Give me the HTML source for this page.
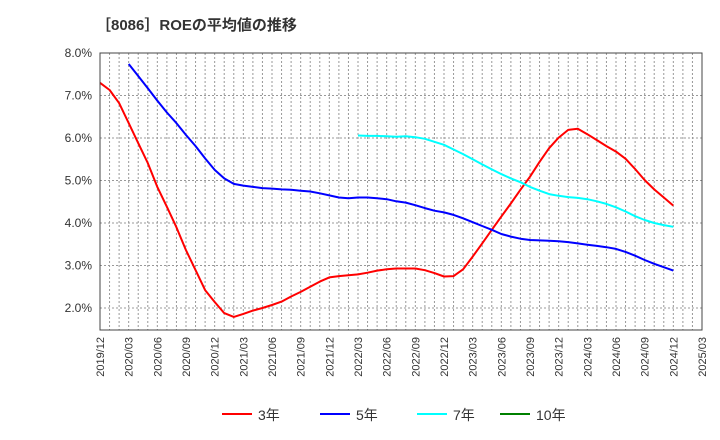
<!DOCTYPE html>
<html><head><meta charset="utf-8"><style>
body{margin:0;background:#fff;}
svg{display:block;font-family:"Liberation Sans","Noto Sans CJK JP",sans-serif;}
</style></head><body>
<svg id="chart" width="720" height="440" xmlns="http://www.w3.org/2000/svg">
<text x="96" y="30" font-size="15" font-weight="bold" fill="#333">［8086］ROEの平均値の推移</text>
<g id="grid"></g>
<g id="yaxis"></g>
<g id="xaxis"></g>
<g id="series"></g>
<rect x="100" y="53" width="602" height="277" fill="none" stroke="#444" stroke-width="1"/>
<g>
<g><line x1="222" y1="414" x2="252" y2="414" stroke="#ff0000" stroke-width="2"/><text x="258" y="420" font-size="14" fill="#333">3年</text></g>
<g><line x1="320" y1="414" x2="350" y2="414" stroke="#0000ff" stroke-width="2"/><text x="356" y="420" font-size="14" fill="#333">5年</text></g>
<g><line x1="417" y1="414" x2="447" y2="414" stroke="#00ffff" stroke-width="2"/><text x="453" y="420" font-size="14" fill="#333">7年</text></g>
<g><line x1="500" y1="414" x2="530" y2="414" stroke="#008000" stroke-width="2"/><text x="536" y="420" font-size="14" fill="#333">10年</text></g>
</g>
</svg>
<script>
const xTickLabels=["2019/12","2020/03","2020/06","2020/09","2020/12","2021/03","2021/06","2021/09","2021/12","2022/03","2022/06","2022/09","2022/12","2023/03","2023/06","2023/09","2023/12","2024/03","2024/06","2024/09","2024/12","2025/03"];
const yTicks=[2,3,4,5,6,7,8];
const roe3=[7.30,7.13,6.82,6.35,5.88,5.41,4.85,4.38,3.9,3.36,2.89,2.42,2.14,1.88,1.79,1.86,1.94,2.0,2.07,2.15,2.27,2.38,2.5,2.62,2.72,2.75,2.77,2.79,2.83,2.88,2.91,2.93,2.93,2.93,2.89,2.82,2.74,2.75,2.91,3.21,3.52,3.84,4.15,4.46,4.78,5.09,5.44,5.76,6.01,6.19,6.22,6.09,5.95,5.81,5.68,5.51,5.27,5.01,4.79,4.6,4.41];
const roe5=[null,null,null,7.74,7.46,7.17,6.88,6.6,6.35,6.07,5.81,5.52,5.25,5.05,4.92,4.88,4.85,4.82,4.81,4.79,4.78,4.76,4.74,4.7,4.65,4.6,4.58,4.6,4.6,4.58,4.56,4.51,4.48,4.42,4.35,4.29,4.25,4.19,4.11,4.02,3.93,3.84,3.74,3.68,3.63,3.6,3.59,3.58,3.57,3.55,3.52,3.49,3.46,3.43,3.39,3.32,3.23,3.13,3.04,2.96,2.88];
const roe7=[null,null,null,null,null,null,null,null,null,null,null,null,null,null,null,null,null,null,null,null,null,null,null,null,null,null,null,6.06,6.05,6.05,6.04,6.03,6.04,6.02,5.98,5.91,5.84,5.73,5.62,5.5,5.38,5.26,5.15,5.05,4.96,4.85,4.76,4.68,4.64,4.61,4.59,4.56,4.51,4.45,4.37,4.27,4.16,4.07,4.0,3.95,3.91];
const roe10=[];
const NS="http://www.w3.org/2000/svg";
const X0=100,X1=702,Y0=53,Y1=330,nMonths=63;
const xs=m=>X0+(X1-X0)*m/nMonths;
const ys=v=>Y0+(8-v)*42.5;
function mk(t,a,p){const e=document.createElementNS(NS,t);for(const k in a)e.setAttribute(k,a[k]);p.appendChild(e);return e;}
const grid=document.getElementById('grid');
for(let m=1;m<nMonths;m++){
 const l=mk('line',{x1:xs(m),x2:xs(m),y1:Y0,y2:Y1,stroke:'#999','stroke-dasharray':'2,2','stroke-width':1},grid);
 
 
}
const ya=document.getElementById('yaxis');
yTicks.forEach(v=>{
 const l=mk('line',{x1:X0,x2:X1,y1:ys(v),y2:ys(v),stroke:'#999','stroke-dasharray':'2,2','stroke-width':1},grid);
 
 
 const t=mk('text',{x:92,y:ys(v)+4,'text-anchor':'end','font-size':12,fill:'#333'},ya);
 t.textContent=v.toFixed(1)+'%';
 
 
});
const xa=document.getElementById('xaxis');
xTickLabels.forEach((s,i)=>{
 const x=xs(i*3);
 const t=mk('text',{x:0,y:0,transform:`translate(${x+4},337) rotate(-90)`,'text-anchor':'end','font-size':11,fill:'#333'},xa);
 t.textContent=s;
 
 
});
const sg=document.getElementById('series');
[[roe3,'#ff0000','line-3y'],[roe5,'#0000ff','line-5y'],[roe7,'#00ffff','line-7y'],[roe10,'#008000','line-10y']].forEach(([arr,c,n])=>{
 const pts=[];arr.forEach((v,i)=>{if(v!=null)pts.push(xs(i).toFixed(1)+','+ys(v).toFixed(1));});
 if(!pts.length)return;
 const p=mk('polyline',{points:pts.join(' '),fill:'none',stroke:c,'stroke-width':2,'stroke-linejoin':'round'},sg);
 
 
});
</script>
</body></html>
